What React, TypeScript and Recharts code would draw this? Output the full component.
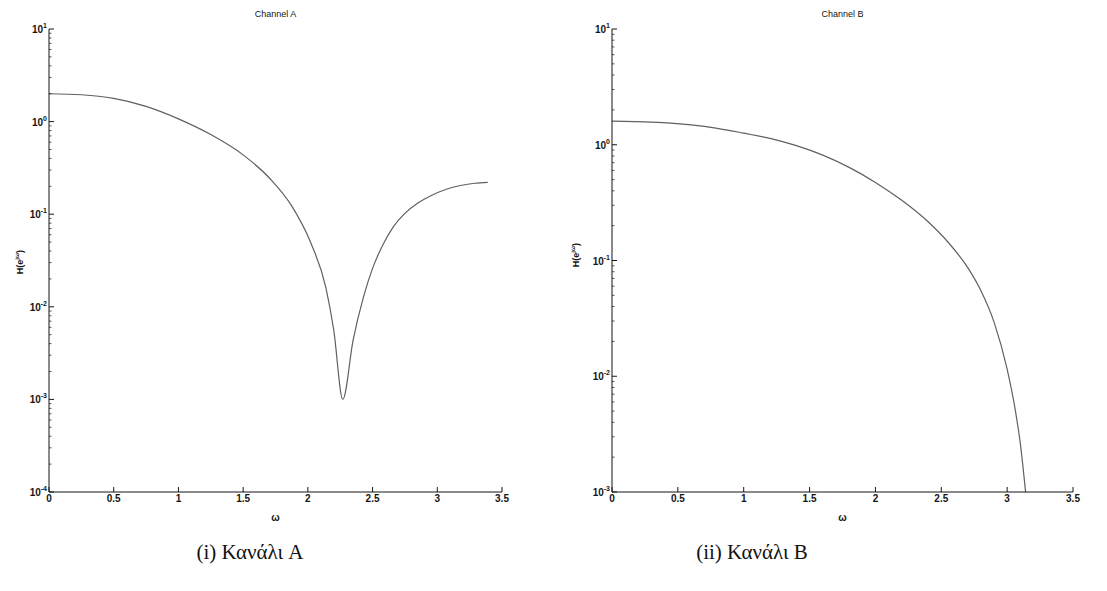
import { LineChart, Line, XAxis, YAxis } from 'recharts'

// magnitude responses
const OMEGA_A = [0, 0.25, 0.5, 0.75, 1.0, 1.25, 1.5, 1.71, 1.87, 2.02, 2.14, 2.2, 2.27, 2.35, 2.43, 2.5, 2.58, 2.66, 2.75, 2.85, 2.95, 3.07, 3.18, 3.29, 3.39]
const MAG_A = [2.0, 1.95, 1.78, 1.46, 1.07, 0.724, 0.437, 0.24, 0.126, 0.05, 0.0159, 0.0056, 0.001, 0.0044, 0.0128, 0.026, 0.0468, 0.0729, 0.102, 0.132, 0.1585, 0.186, 0.204, 0.216, 0.221]

const OMEGA_B = [0, 0.3, 0.6, 0.8, 1.0, 1.2, 1.4, 1.6, 1.8, 2.0, 2.2, 2.4, 2.55, 2.7, 2.8, 2.9, 3.0, 3.06, 3.1, 3.14]
const MAG_B = [1.6, 1.57, 1.486, 1.387, 1.259, 1.135, 0.982, 0.813, 0.638, 0.473, 0.331, 0.216, 0.1445, 0.0871, 0.055, 0.0295, 0.0115, 0.00525, 0.00263, 0.001]

const X_TICKS = [0, 0.5, 1, 1.5, 2, 2.5, 3, 3.5]
const DECADES_A = [1e-4, 1e-3, 1e-2, 1e-1, 1, 10]
const DECADES_B = [1e-3, 1e-2, 1e-1, 1, 10]
const TITLES = ['Channel A', 'Channel B']
const CAPTIONS = ['(i) Κανάλι A', '(ii) Κανάλι B']

const GAP = 6
const INK = '#151515'
const SANS = '"Liberation Sans", Arial, sans-serif'
const PLOT_TOP = 29
const CHART_H = 540
const X_AXIS_H = 48

const withMinors = (decades: number[]) => {
  const out: number[] = []
  decades.forEach((d, i) => {
    out.push(d)
    if (i < decades.length - 1) for (let k = 2; k < 10; k++) out.push(d * k)
  })
  return out
}

const isMajor = (v: number) => {
  const l = Math.log10(v)
  return Math.abs(l - Math.round(l)) < 1e-6
}

function BottomTick({ x, y, payload }: any) {
  const ay = y - GAP
  return (
    <g>
      <line x1={x} x2={x} y1={ay} y2={ay - 5} stroke={INK} />
      <text x={x} y={ay + 10} textAnchor="middle" fontSize={10} fontWeight="bold" fontFamily={SANS} fill={INK}>
        {payload.value}
      </text>
    </g>
  )
}

function TopTick({ x, y }: any) {
  const ay = y + GAP
  return <line x1={x} x2={x} y1={ay} y2={ay + 5} stroke={INK} />
}

function LeftTick({ x, y, payload }: any) {
  const ax = x + GAP
  const v = payload.value
  const major = isMajor(v)
  return (
    <g>
      <line x1={ax} x2={ax + (major ? 5 : 2.5)} y1={y} y2={y} stroke={INK} strokeWidth={major ? 1 : 0.7} />
      {major && (
        <text x={ax - 2} y={y + 4} textAnchor="end" fontSize={10} fontWeight="bold" fontFamily={SANS} fill={INK}>
          10
          <tspan dy={-5} fontSize={7}>{Math.round(Math.log10(v))}</tspan>
        </text>
      )}
    </g>
  )
}

function RightTick({ x, y, payload }: any) {
  const ax = x - GAP
  const major = isMajor(payload.value)
  return <line x1={ax} x2={ax - (major ? 5 : 2.5)} y1={y} y2={y} stroke={INK} strokeWidth={major ? 1 : 0.7} />
}

function Panel({ omega, mag, decades, title, caption, left, width, yWidth, rightMargin, labelX, labelY, captionX }: any) {
  const rows = omega.map((w: number, i: number) => ({ w, h: mag[i] }))
  const plotLeft = yWidth
  const plotRight = width - rightMargin
  const mid = left + (plotLeft + plotRight) / 2
  return (
    <>
      <div style={{ position: 'absolute', left, top: 0 }}>
        <LineChart width={width} height={CHART_H} data={rows} margin={{ top: PLOT_TOP, right: rightMargin, bottom: 0, left: 0 }}>
          <XAxis dataKey="w" type="number" domain={[0, 3.5]} ticks={X_TICKS} interval={0} height={X_AXIS_H}
            tickSize={0} tickMargin={GAP} tick={<BottomTick />} axisLine={{ stroke: INK }} />
          <XAxis xAxisId="top" orientation="top" dataKey="w" type="number" domain={[0, 3.5]} ticks={X_TICKS} interval={0}
            height={0} tickSize={0} tickMargin={GAP} tick={<TopTick />} axisLine={{ stroke: INK }} />
          <YAxis type="number" scale="log" domain={[decades[0], decades[decades.length - 1]]} allowDataOverflow
            ticks={withMinors(decades)} interval={0} width={yWidth} tickSize={0} tickMargin={GAP}
            tick={<LeftTick />} axisLine={{ stroke: INK }} />
          <YAxis yAxisId="right" orientation="right" type="number" scale="log" domain={[decades[0], decades[decades.length - 1]]}
            allowDataOverflow ticks={withMinors(decades)} interval={0} width={0} tickSize={0} tickMargin={GAP}
            tick={<RightTick />} axisLine={{ stroke: INK }} />
          <Line dataKey="h" type="monotone" stroke="#606060" strokeWidth={1.2} dot={false} isAnimationActive={false} />
        </LineChart>
      </div>
      <div style={{ position: 'absolute', left: mid - 60, width: 120, top: 9, textAlign: 'center', fontFamily: SANS, fontSize: 9, color: INK }}>
        {title}
      </div>
      <div style={{ position: 'absolute', left: mid - 20, width: 40, top: 512, textAlign: 'center', fontFamily: SANS, fontSize: 10, fontWeight: 'bold', color: INK }}>
        ω
      </div>
      <div style={{ position: 'absolute', left: left + labelX - 40, top: labelY - 8, width: 80, height: 16, textAlign: 'center',
        transform: 'rotate(-90deg)', fontFamily: SANS, fontSize: 9, fontWeight: 'bold', color: INK, lineHeight: '16px' }}>
        H(e<sup style={{ fontSize: 6 }}>jω</sup>)
      </div>
      <div style={{ position: 'absolute', left: captionX - 100, width: 200, top: 540, textAlign: 'center',
        fontFamily: '"Liberation Serif", "Times New Roman", serif', fontSize: 21, color: '#111' }}>
        {caption}
      </div>
    </>
  )
}

export default function App() {
  return (
    <div style={{ position: 'absolute', left: 0, top: 0, width: 1107, height: 591, background: '#fff', overflow: 'hidden' }}>
      <Panel omega={OMEGA_A} mag={MAG_A} decades={DECADES_A} title={TITLES[0]} caption={CAPTIONS[0]}
        left={0} width={530} yWidth={49} rightMargin={28} labelX={17} labelY={262} captionX={250} />
      <Panel omega={OMEGA_B} mag={MAG_B} decades={DECADES_B} title={TITLES[1]} caption={CAPTIONS[1]}
        left={560} width={540} yWidth={52} rightMargin={27} labelX={13} labelY={255} captionX={752} />
    </div>
  )
}
